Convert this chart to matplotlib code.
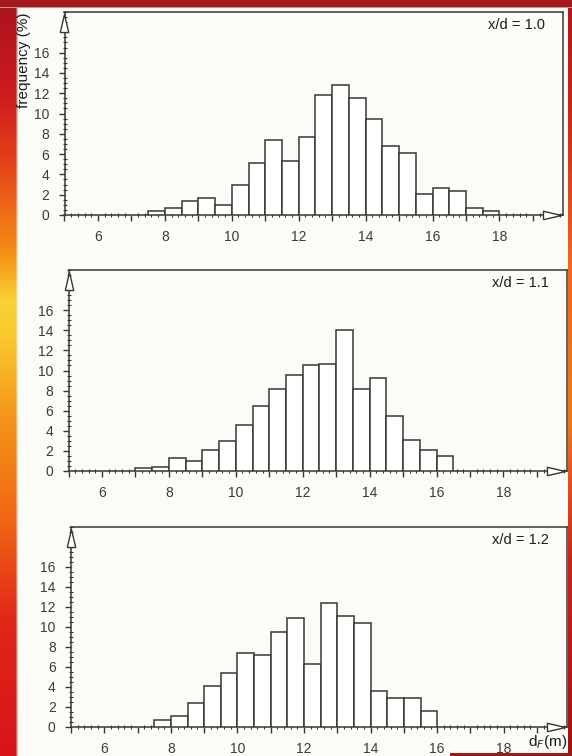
import numpy as np
import matplotlib
matplotlib.use('Agg')
from matplotlib import pyplot as plt
from matplotlib.ticker import MultipleLocator, FixedLocator, FuncFormatter

plt.rcParams['font.family'] = ['Liberation Sans', 'DejaVu Sans']

# frequency (%) per 0.5 m class of d_F, three stations x/d
labels = ['x/d = 1.0', 'x/d = 1.1', 'x/d = 1.2']
first_bin = [7.5, 7.0, 7.5]
bin_width = 0.5
freq_10 = [0.4, 0.7, 1.4, 1.7, 1.0, 3.0, 5.1, 7.4, 5.3, 7.7, 11.8,
           12.8, 11.5, 9.5, 6.8, 6.1, 2.1, 2.7, 2.4, 0.7, 0.4]
freq_11 = [0.3, 0.35, 1.3, 1.0, 2.05, 3.0, 4.6, 6.5, 8.2, 9.6, 10.5,
           10.6, 14.0, 8.2, 9.3, 5.5, 3.1, 2.1, 1.45]
freq_12 = [0.7, 1.1, 2.45, 4.15, 5.4, 7.45, 7.2, 9.5, 10.9, 6.35, 12.4,
           11.1, 10.45, 3.6, 2.9, 2.9, 1.65]
freqs = [freq_10, freq_11, freq_12]

y_ticks = [0, 2, 4, 6, 8, 10, 12, 14, 16]

ink = '#3a3632'
txt = '#3e3b37'
dark = '#1f1d1b'
W, H = 572, 756

fig = plt.figure(figsize=(W / 100, H / 100), dpi=100)

# page with the coloured border around it
page = np.array([0.985, 0.985, 0.975])
bg = np.ones((H, W, 3)) * page
ys = np.arange(H)
stops = [0, 90, 170, 250, 300, 330, 420, 520, 620, 756]
cols = np.array([[0.66, 0.08, 0.12], [0.80, 0.10, 0.12], [0.90, 0.28, 0.10],
                 [0.96, 0.55, 0.08], [0.98, 0.82, 0.20], [0.98, 0.80, 0.18],
                 [0.96, 0.58, 0.10], [0.94, 0.40, 0.08], [0.88, 0.15, 0.10],
                 [0.84, 0.08, 0.10]])
left_col = np.stack([np.interp(ys, stops, cols[:, k]) for k in range(3)], axis=1)
for x in range(18):
    a = 1.0 if x < 16 else (18 - x) / 3.0
    bg[:, x] = a * left_col + (1 - a) * page
rstops = [0, 120, 260, 420, 560, 756]
rcols = np.array([[0.70, 0.08, 0.10], [0.82, 0.15, 0.10], [0.92, 0.42, 0.10],
                  [0.93, 0.48, 0.10], [0.80, 0.14, 0.10], [0.60, 0.08, 0.08]])
right_col = np.stack([np.interp(ys, rstops, rcols[:, k]) for k in range(3)], axis=1)
for x in range(568, W):
    bg[:, x] = right_col
bg[:7] = [0.64, 0.10, 0.11]
bg[7] = 0.5 * np.array([0.64, 0.10, 0.11]) + 0.5 * page
bg[753:, 450:] = [0.60, 0.10, 0.09]

bga = fig.add_axes([0, 0, 1, 1], zorder=-10)
bga.imshow(bg, aspect='auto', interpolation='bilinear')
bga.axis('off')

# panel boxes in pixels: left, top, right, bottom
boxes = [(64.5, 12, 563, 215), (68.5, 270, 567, 471), (71, 527, 567, 727)]

up_arrow = [(-1.4, -3), (0, 3), (1.4, -3), (-1.4, -3)]
right_arrow = [(-3, -1.4), (3, 0), (-3, 1.4), (-3, -1.4)]

for i in range(3):
    l, t, r, b = boxes[i]
    ax = fig.add_axes([l / W, 1 - b / H, (r - l) / W, (b - t) / H])
    ax.set_facecolor('none')
    x0 = first_bin[i] + bin_width * np.arange(len(freqs[i]))
    ax.bar(x0, freqs[i], width=bin_width, align='edge', facecolor='white',
           edgecolor=ink, linewidth=1.1, zorder=3)
    ax.set_xlim(5, 19.9)
    ax.set_ylim(0, 20)
    for s in ax.spines.values():
        s.set_color(ink)
        s.set_linewidth(1.1)

    ax.xaxis.set_major_locator(MultipleLocator(1))
    ax.xaxis.set_minor_locator(MultipleLocator(0.2))
    ax.xaxis.set_major_formatter(FuncFormatter(
        lambda v, p: '%d' % v if v % 2 == 0 and 6 <= v <= 18 else ''))
    ax.yaxis.set_major_locator(FixedLocator(y_ticks))
    ax.yaxis.set_minor_locator(MultipleLocator(0.5))
    ax.tick_params(axis='both', which='major', direction='out', length=4,
                   width=1, color=ink, labelcolor=txt, labelsize=10)
    ax.tick_params(axis='x', which='major', pad=7)
    ax.tick_params(axis='y', which='major', pad=7)
    ax.tick_params(axis='both', which='minor', direction='inout', length=2.5,
                   width=0.8, color=ink)
    ax.tick_params(top=False, right=False, which='both')

    # hollow arrow heads on both axes
    ax.plot(5, 18.9, marker=up_arrow, ms=13, mfc='white', mec=ink, mew=1,
            clip_on=False, zorder=5)
    ax.plot(19.58, 0, marker=right_arrow, ms=13, mfc='white', mec=ink, mew=1,
            clip_on=False, zorder=5)

    ax.text(0.964, 0.972, labels[i], transform=ax.transAxes, ha='right',
            va='top', fontsize=10.5, color=dark)

fig.text(24 / W, 1 - 60 / H, 'frequency (%)', rotation=90, ha='center',
         va='center', fontsize=11, color=dark)
fig.text(548 / W, 1 - 742 / H, r'd$_F$(m)', ha='center', va='center',
         fontsize=11, color=dark)

fig.savefig('out.png', dpi=100)
